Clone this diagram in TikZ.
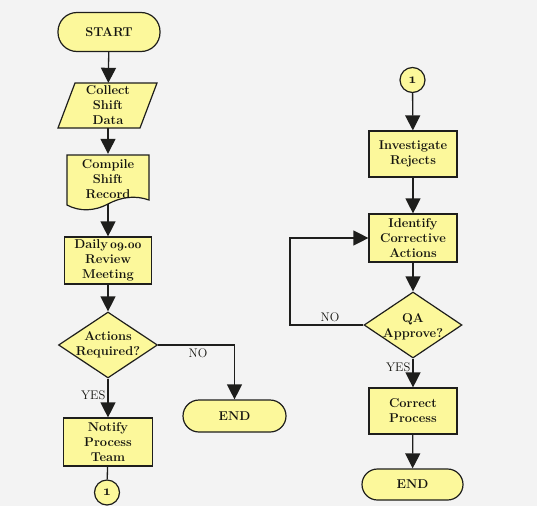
\documentclass[tikz,border=0pt]{standalone}
\usetikzlibrary{arrows.meta,shapes.geometric}
\definecolor{boxfill}{RGB}{252,248,155}
\definecolor{edge}{RGB}{30,30,28}
\definecolor{txt}{RGB}{20,20,15}
\definecolor{bg}{RGB}{243,243,243}
\newcommand\myosn[1]{{\usefont{OML}{cmm}{b}{it}#1}}
\newcommand\myosdot{{\usefont{OML}{cmm}{b}{it}\char58}}
\begin{document}
\begin{tikzpicture}[x=1pt,y=-1pt,
  every node/.style={text=txt},
  lbl/.style={font=\fontsize{12.8}{15}\selectfont\bfseries, align=center, inner sep=0pt},
  procbox/.style={draw=edge, line width=1.2pt, fill=boxfill, rectangle, inner sep=0pt, lbl},
  termbox/.style={draw=edge, line width=1.2pt, fill=boxfill, rectangle, rounded corners=15.5pt, inner sep=0pt, lbl},
  decbox/.style={draw=edge, line width=1.2pt, fill=boxfill, diamond, inner sep=0pt, aspect=1.5},
  conbox/.style={draw=edge, line width=1.2pt, fill=boxfill, circle, inner sep=0pt, minimum size=25pt, font=\fontsize{15}{15}\selectfont},
  shapeline/.style={draw=edge, line width=1.2pt, fill=boxfill},
  flow/.style={draw=edge, line width=1.3pt, -{Triangle[width=15pt,length=15pt]}},
  plain/.style={draw=edge, line width=1.3pt},
  tag/.style={font=\fontsize{12.5}{13}\selectfont, inner sep=1pt}
]
\useasboundingbox (0,0) rectangle (537,506);
\fill[bg] (0,0) rectangle (537,506);

% ---------- left column ----------
\node[termbox, minimum width=102pt, minimum height=39pt, rounded corners=19pt] (start) at (109,32) {START};

\path[shapeline] (75,83) -- (157,83) -- (140,128) -- (58,128) -- cycle;
\node[lbl, minimum width=82pt, minimum height=45pt] (collect) at (108,105.5) {Collect\\Shift\\Data};

\path[shapeline] (67,155) -- (149,155) -- (149,200)
  .. controls (135,195) and (121,197) .. (108,204)
  .. controls (95,211) and (80,212) .. (67,205) -- cycle;
\node[lbl, minimum width=82pt, minimum height=50pt] (compile) at (108,179) {Compile\\Shift\\Record};

\node[procbox, minimum width=87pt, minimum height=47pt] (daily) at (108,260.5) {Daily\,\myosn{09}\myosdot\myosn{00}\\Review\\Meeting};

\node[decbox, minimum width=99pt, minimum height=66pt] (dec1) at (108,345) {};
\node[lbl] (dec1t) at (108,345) {Actions\\Required?};

\node[termbox, minimum width=103pt, minimum height=32pt, rounded corners=16pt] (end1) at (234.5,416) {END};

\node[procbox, minimum width=89pt, minimum height=48pt] (notify) at (108,442) {Notify\\Process\\Team};

\node[conbox] (c1) at (107,492.5) {\myosn{1}};

\draw[flow] (start) -- (collect);
\draw[flow] (collect) -- (compile);
\draw[flow] (compile) -- (daily);
\draw[flow] (daily) -- (dec1);
\draw[flow] (dec1) -- node[tag, pos=0.42, left=1pt] (yes1) {YES} (notify);
\draw[flow] (dec1.east) -- (end1.north |- dec1.east) -- (end1.north);
\node[tag] (no1) at (198,353) {NO};
\draw[plain] (notify) -- (c1);

% ---------- right column ----------
\node[conbox] (c2) at (412.5,80) {\myosn{1}};
\node[procbox, minimum width=88pt, minimum height=46pt] (invest) at (413,154) {Investigate\\Rejects};
\node[procbox, minimum width=88pt, minimum height=48pt] (ident) at (413,238) {Identify\\Corrective\\Actions};
\node[decbox, minimum width=98pt, minimum height=66pt] (dec2) at (413,325) {};
\node[lbl] (dec2t) at (413,327) {QA\\Approve?};
\node[procbox, minimum width=88pt, minimum height=46pt] (correct) at (413,411) {Correct\\Process};
\node[termbox, minimum width=101pt, minimum height=31pt, rounded corners=15.5pt] (end2) at (412.5,484.5) {END};
\coordinate (fb) at (290,325);

\draw[flow] (c2) -- (invest);
\draw[flow] (invest) -- (ident);
\draw[flow] (ident) -- (dec2);
\draw[flow] (dec2) -- node[tag, pos=0.3, left=1pt] (yes2) {YES} (correct);
\draw[flow] (correct) -- (end2);
\draw[flow] (dec2.west) -- (fb) -- (fb |- ident.west) -- (ident.west);
\node[tag] (no2) at (330,317) {NO};
\end{tikzpicture}
\end{document}
